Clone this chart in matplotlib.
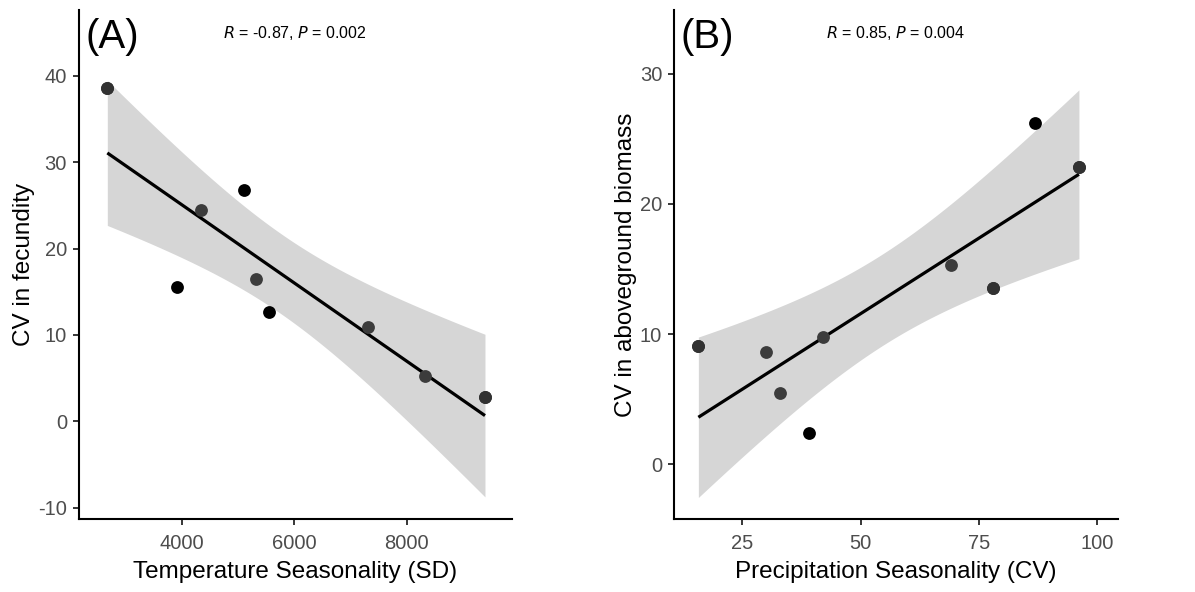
import numpy as np
import matplotlib
matplotlib.use("Agg")
import matplotlib.pyplot as plt

plt.rcParams['font.family'] = ['Liberation Sans', 'DejaVu Sans']

# Panel A data
temp_sd = [2677, 3911, 4338, 5113, 5321, 5547, 7305, 8326, 9392]
cv_fecundity = [38.6, 15.6, 24.4, 26.8, 16.5, 12.7, 10.95, 5.2, 2.8]
shade_a = ['mix', 'black', 'grey', 'black', 'grey', 'black', 'grey', 'grey', 'mix']

# Panel B data
precip_cv = [15.7, 30.0, 33.05, 39.0, 42.0, 69.1, 78.1, 87.0, 96.2]
cv_biomass = [9.08, 8.64, 5.45, 2.43, 9.8, 15.35, 13.58, 26.25, 22.84]
shade_b = ['mix', 'grey', 'grey', 'black', 'grey', 'grey', 'mix', 'black', 'mix']

xticks_a = [4000, 6000, 8000]
yticks_a = [-10, 0, 10, 20, 30, 40]
xticks_b = [25, 50, 75, 100]
yticks_b = [0, 10, 20, 30]

T975_DF7 = 2.364624  # t quantile for 95% CI with n-2 = 7 df

fig = plt.figure(figsize=(11.95, 5.92), dpi=100)
axA = fig.add_axes([0.0659, 0.1233, 0.3623, 0.8598])
axB = fig.add_axes([0.564, 0.1233, 0.3713, 0.8598])


def panel(ax, x, y, shades, xlim, ylim, xticks, yticks, xlabel, ylabel, tag, stat):
    x = np.asarray(x, float)
    y = np.asarray(y, float)
    n = len(x)
    b, a = np.polyfit(x, y, 1)
    xs = np.linspace(x.min(), x.max(), 80)
    fit = a + b * xs
    resid = y - (a + b * x)
    s = np.sqrt(np.sum(resid ** 2) / (n - 2))
    se = s * np.sqrt(1 / n + (xs - x.mean()) ** 2 / np.sum((x - x.mean()) ** 2))
    ax.fill_between(xs, fit - T975_DF7 * se, fit + T975_DF7 * se, color='#d6d6d6', lw=0, zorder=1)
    ax.plot(xs, fit, color='black', lw=2.3, zorder=2, solid_capstyle='butt')
    for xi, yi, sh in zip(x, y, shades):
        if sh == 'black':
            ax.scatter([xi], [yi], s=85, color='black', lw=0, zorder=3)
        elif sh == 'grey':
            ax.scatter([xi], [yi], s=85, color='#3c3c3c', lw=0, zorder=3)
        else:
            ax.scatter([xi], [yi], s=85, color='black', lw=0, zorder=3)
            ax.scatter([xi], [yi], s=85, color='#3c3c3c', lw=0, zorder=4, alpha=0.85)
    ax.set_xlim(*xlim)
    ax.set_ylim(*ylim)
    ax.set_xticks(xticks)
    ax.set_yticks(yticks)
    ax.set_xticklabels([str(t) for t in xticks])
    ax.set_yticklabels([str(t) for t in yticks])
    for side in ['top', 'right']:
        ax.spines[side].set_visible(False)
    for side in ['left', 'bottom']:
        ax.spines[side].set_linewidth(1.5)
    ax.tick_params(axis='both', length=4.5, width=1.1, labelsize=14.5, labelcolor='#4d4d4d', pad=4)
    ax.tick_params(axis='x', pad=6)
    ax.set_xlabel(xlabel, fontsize=17.5, labelpad=6)
    ax.set_ylabel(ylabel, fontsize=17.5, labelpad=2)
    ax.text(0.015, 0.985, tag, transform=ax.transAxes, fontsize=29, va='top', ha='left')
    ax.text(0.5, 0.955, stat, transform=ax.transAxes, fontsize=11.5, va='center', ha='center')


panel(axA, temp_sd, cv_fecundity, shade_a, (2169, 9867), (-11.3, 47.6), xticks_a, yticks_a,
      'Temperature Seasonality (SD)', 'CV in fecundity', '(A)', r'$\it{R}$ = -0.87, $\it{P}$ = 0.002')
panel(axB, precip_cv, cv_biomass, shade_b, (10.54, 104.4), (-4.2, 34.9), xticks_b, yticks_b,
      'Precipitation Seasonality (CV)', 'CV in aboveground biomass', '(B)', r'$\it{R}$ = 0.85, $\it{P}$ = 0.004')

fig.savefig('out.png', dpi=100)
